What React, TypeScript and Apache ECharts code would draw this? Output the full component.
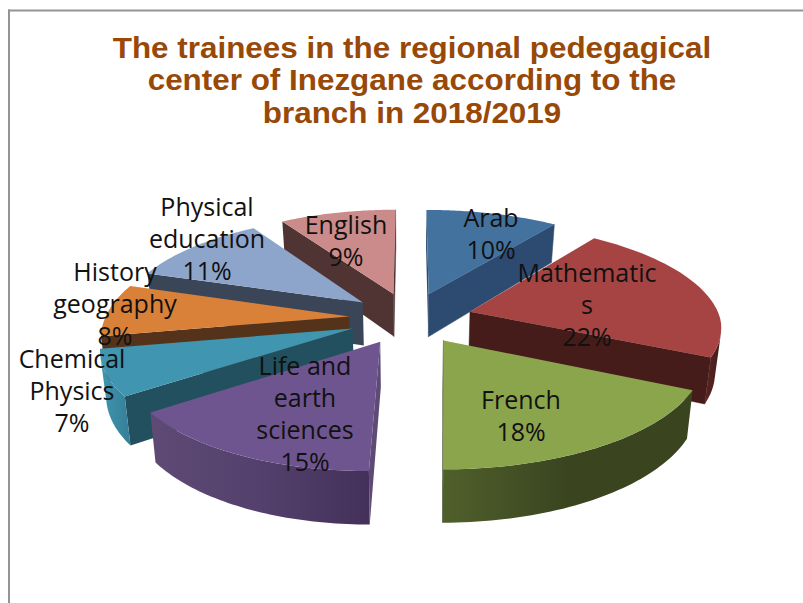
import React, { useEffect, useRef } from "react";
import * as echarts from "echarts";

// ---- data
const categories = ["Arab", "Mathematics", "French", "Life and earth sciences", "Chemical Physics", "History geography", "Physical education", "English"];
const values = [10, 22, 18, 15, 7, 8, 11, 9];
const wrappedNames = ["Arab", "Mathematic\ns", "French", "Life and\nearth\nsciences", "Chemical\nPhysics", "History\ngeography", "Physical\neducation", "English"];
const titleLines = ["The trainees in the regional pedegagical", "center of Inezgane according to the", "branch in 2018/2019"];

// ---- styles and layout
const topColors = ["#44729f", "#a54442", "#8ba54d", "#6f5590", "#4095b0", "#d98039", "#8ea5cb", "#cb8b8a"];
const radialColors = ["#2d4a70", "#451c19", "#3a4520", "#5f4a76", "#22505e", "#55321a", "#3b4558", "#503433"];
const wallStart = ["#2d4a70", "#5a2422", "#50602b", "#5f4a76", "#4095b0", "#b06a30", "#6a7c98", "#8a5f5e"];
const wallMid = ["#2d4a70", "#4f2020", "#3a4520", "#54406c", "#3a8aa4", "#a86530", "#63748f", "#825958"];
const wallEnd = ["#2d4a70", "#451c19", "#3a4520", "#43315a", "#357e96", "#a05f2c", "#5d6d88", "#7a5352"];
const labelCenters: number[][] = [[491, 233], [587, 304], [521, 415], [305, 413], [72, 390], [115, 303], [207, 238], [346, 240]];
const drawOrder = [0, 7, 6, 5, 4, 1, 3, 2];

// ---- projection of the exploded disc
const CX = 410, CY = 318, A_RIGHT = 250, A_LEFT = 244, B = 103, K = 0.145, SHEAR = 5, DEPTH = 44, EXPLODE = 0.25;
const total = values.reduce((s, v) => s + v, 0);
const starts: number[] = [];
values.reduce((acc, v, i) => { starts[i] = acc; return acc + v; }, 0);

type Pt = [number, number];
function project(X: number, Y: number, low: boolean): Pt {
  const w = 1 + K * Y;
  const x = CX + ((X < 0 ? A_LEFT : A_RIGHT) * X + SHEAR * Math.min(Y, 0)) / w;
  const y = CY - (B * Y) / w;
  if (!low) return [x, y];
  return [CX + (x - CX) * 0.98, y + DEPTH / w];
}
function area(p: Pt[]) {
  let s = 0;
  p.forEach((q, i) => { const r = p[(i + 1) % p.length]; s += q[0] * r[1] - r[0] * q[1]; });
  return s;
}

function sliceShapes(i: number) {
  const t0 = (starts[i] / total) * Math.PI * 2;
  const t1 = ((starts[i] + values[i]) / total) * Math.PI * 2;
  const mid = (t0 + t1) / 2;
  const ox = EXPLODE * Math.sin(mid), oy = EXPLODE * Math.cos(mid);
  const rim = (t: number, low: boolean) => project(ox + Math.sin(t), oy + Math.cos(t), low);
  const apexT = project(ox, oy, false), apexB = project(ox, oy, true);
  const N = 48;
  const ts = Array.from({ length: N + 1 }, (_, k) => t0 + ((t1 - t0) * k) / N);
  const children: any[] = [];

  const startWall = [apexT, rim(t0, false), rim(t0, true), apexB];
  if (area(startWall) < 0) children.push({ type: "polygon", shape: { points: startWall }, style: { fill: radialColors[i] } });
  const endWall = [apexT, rim(t1, false), rim(t1, true), apexB];
  if (area(endWall) > 0) children.push({ type: "polygon", shape: { points: endWall }, style: { fill: radialColors[i], stroke: radialColors[i], lineWidth: 0.5 } });

  const up: Pt[] = [], down: Pt[] = [];
  for (let k = 0; k < N; k++) {
    const a = rim(ts[k], false), b = rim(ts[k + 1], false), c = rim(ts[k + 1], true), d = rim(ts[k], true);
    if (area([a, b, c, d]) < 0) {
      if (!up.length) { up.push(a); down.push(d); }
      up.push(b); down.push(c);
    }
  }
  if (up.length > 1) {
    children.push({
      type: "polygon",
      shape: { points: [...up, ...down.reverse()] },
      style: {
        fill: new echarts.graphic.LinearGradient(0, 0, 1, 0, [
          { offset: 0, color: wallStart[i] },
          { offset: 0.5, color: wallMid[i] },
          { offset: 1, color: wallEnd[i] },
        ]),
      },
    });
  }
  const topPts: Pt[] = [apexT, ...ts.map((t) => rim(t, false))];
  children.push({ type: "polygon", shape: { points: topPts }, style: { fill: topColors[i] } });
  return children;
}

export default function App() {
  const ref = useRef<HTMLDivElement>(null);
  useEffect(() => {
    if (!ref.current) return;
    const chart = echarts.init(ref.current, undefined, { renderer: "svg" });
    chart.setOption({
      animation: false,
      backgroundColor: "#ffffff",
      graphic: [
        { type: "rect", shape: { x: 8, y: 9.5, width: 795, height: 2 }, style: { fill: "#949494" } },
        { type: "rect", shape: { x: 8, y: 9.5, width: 2, height: 594 }, style: { fill: "#949494" } },
        {
          type: "text",
          x: 412,
          y: 80,
          scaleX: 1.047,
          style: {
            text: titleLines.join("\n"),
            fontFamily: "Liberation Sans",
            fontWeight: "bold",
            fontSize: 30,
            lineHeight: 32.5,
            fill: "#984807",
            align: "center",
            verticalAlign: "middle",
          },
        },
      ],
      series: [
        {
          type: "custom",
          coordinateSystem: "none",
          silent: true,
          clip: false,
          z: 2,
          data: drawOrder.map((i) => ({ name: categories[i], value: [i, values[i]] })),
          renderItem: (_p: any, api: any) => ({ type: "group", children: sliceShapes(api.value(0)) }),
        },
        {
          type: "custom",
          coordinateSystem: "none",
          silent: true,
          clip: false,
          z: 3,
          data: values.map((v, i) => ({ name: categories[i], value: [i, v] })),
          renderItem: (_p: any, api: any) => {
            const i = api.value(0);
            return {
              type: "text",
              x: labelCenters[i][0],
              y: labelCenters[i][1],
              style: {
                text: `${wrappedNames[i]}\n${api.value(1)}%`,
                fontFamily: "Open Sans",
                fontSize: 25,
                lineHeight: 32,
                fill: "#111111",
                align: "center",
                verticalAlign: "middle",
              },
            };
          },
        },
      ],
    });
    return () => chart.dispose();
  }, []);
  return <div ref={ref} style={{ position: "absolute", left: 0, top: 0, width: 803, height: 603 }} />;
}
